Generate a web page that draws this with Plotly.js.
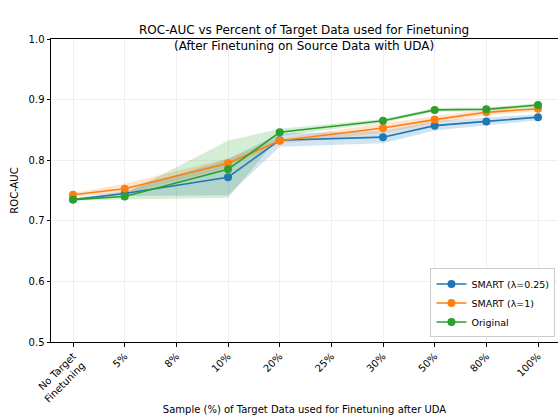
<!DOCTYPE html>
<html>
<head>
<meta charset="utf-8">
<script src="https://cdn.plot.ly/plotly-3.0.1.min.js"></script>
<style>html,body{margin:0;padding:0;background:#fff;}#chart{width:558px;height:415px;}</style>
</head>
<body>
<div id="chart"></div>
<script>
const allCategories = ["No Target<br>Finetuning", "5%", "8%", "10%", "20%", "25%", "30%", "50%", "80%", "100%"];
const dataCategories = ["No Target<br>Finetuning", "5%", "10%", "20%", "30%", "50%", "80%", "100%"];

const smart025Mean = [0.735, 0.745, 0.772, 0.833, 0.838, 0.857, 0.864, 0.871];
const smart025Std  = [0.002, 0.004, 0.030, 0.011, 0.010, 0.008, 0.006, 0.005];
const smart1Mean   = [0.743, 0.753, 0.795, 0.832, 0.853, 0.867, 0.879, 0.885];
const smart1Std    = [0.003, 0.008, 0.008, 0.004, 0.008, 0.006, 0.005, 0.004];
const originalMean = [0.735, 0.740, 0.785, 0.846, 0.865, 0.883, 0.884, 0.891];
const originalStd  = [0.002, 0.005, 0.047, 0.006, 0.003, 0.003, 0.003, 0.003];

const seriesNames = ["SMART (λ=0.25)", "SMART (λ=1)", "Original"];
const seriesColors = ["#1f77b4", "#ff7f0e", "#2ca02c"];
const fillColors = ["rgba(31,119,180,0.2)", "rgba(255,127,14,0.2)", "rgba(44,160,44,0.2)"];
const means = [smart025Mean, smart1Mean, originalMean];
const stds = [smart025Std, smart1Std, originalStd];

const traces = [];
for (let i = 0; i < 3; i++) {
  const upper = means[i].map((m, k) => m + stds[i][k]);
  const lower = means[i].map((m, k) => m - stds[i][k]);
  traces.push({
    x: dataCategories.concat(dataCategories.slice().reverse()),
    y: upper.concat(lower.slice().reverse()),
    type: "scatter", mode: "lines", fill: "toself",
    fillcolor: fillColors[i], line: {width: 0, color: "rgba(0,0,0,0)"},
    hoverinfo: "skip", showlegend: false
  });
}
for (let i = 0; i < 3; i++) {
  traces.push({
    x: dataCategories, y: means[i], name: seriesNames[i],
    type: "scatter", mode: "lines+markers",
    line: {color: seriesColors[i], width: 1.6},
    marker: {color: seriesColors[i], size: 8}
  });
}

const font = {family: "DejaVu Sans, sans-serif", size: 10, color: "#000"};
const layout = {
  width: 558, height: 415,
  margin: {l: 51, r: 0, t: 39, b: 73},
  paper_bgcolor: "#fff", plot_bgcolor: "#fff",
  font: font,
  title: {
    text: "ROC-AUC vs Percent of Target Data used for Finetuning<br>(After Finetuning on Source Data with UDA)",
    font: {family: "DejaVu Sans, sans-serif", size: 12, color: "#000"},
    x: 0.545, xanchor: "center", xref: "container",
    yref: "paper", y: 1, yanchor: "bottom", pad: {b: 5}
  },
  xaxis: {
    type: "category", categoryorder: "array", categoryarray: allCategories,
    range: [-0.426, 9.387],
    showgrid: true, gridcolor: "#ebebeb", gridwidth: 0.8,
    showline: true, linecolor: "#000", linewidth: 1, mirror: true,
    ticks: "outside", ticklen: 3.5, tickcolor: "#000",
    tickangle: -45, tickfont: font,
    title: {text: "Sample (%) of Target Data used for Finetuning after UDA", font: font, standoff: 6},
    zeroline: false
  },
  yaxis: {
    range: [0.5, 1.0], dtick: 0.1, tickformat: ".1f",
    showgrid: true, gridcolor: "#ebebeb", gridwidth: 0.8,
    showline: true, linecolor: "#000", linewidth: 1, mirror: false,
    ticks: "outside", ticklen: 3.5, tickcolor: "#000", tickfont: font,
    title: {text: "ROC-AUC", font: font, standoff: 8},
    zeroline: false
  },
  legend: {
    x: 0.995, xanchor: "right", y: 0.015, yanchor: "bottom",
    bgcolor: "rgba(255,255,255,0.85)", bordercolor: "#cccccc", borderwidth: 1,
    font: {family: "DejaVu Sans, sans-serif", size: 9.5, color: "#000"}, tracegroupgap: 0, itemwidth: 30
  },
  showlegend: true
};

Plotly.newPlot("chart", traces, layout, {displayModeBar: false, staticPlot: true});
</script>
</body>
</html>
